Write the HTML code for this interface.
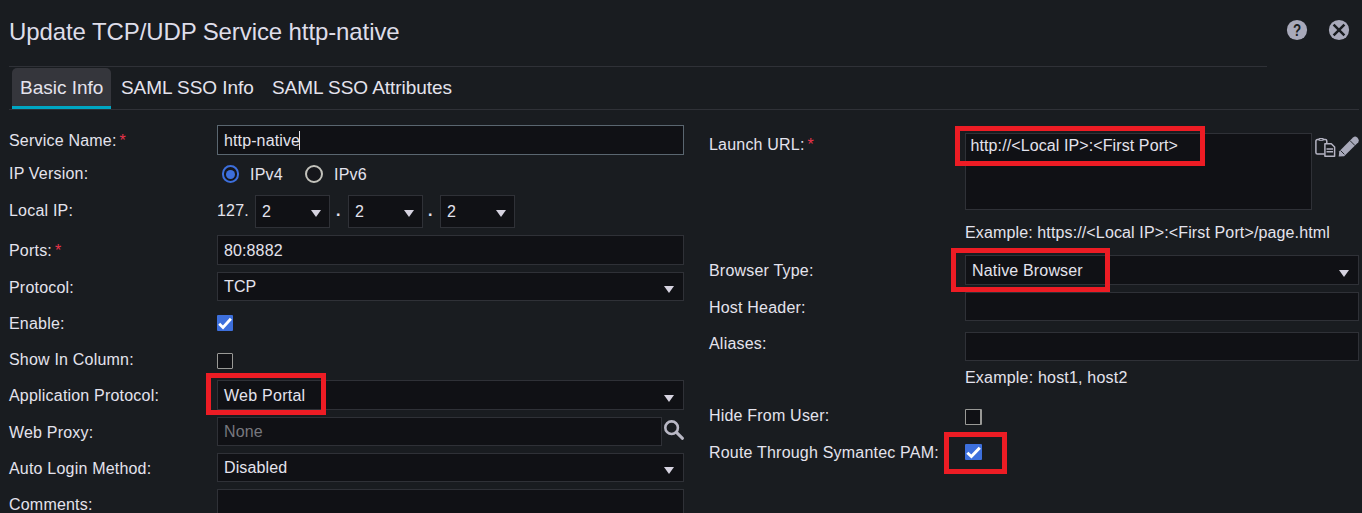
<!DOCTYPE html>
<html><head><meta charset="utf-8"><title>Update TCP/UDP Service http-native</title><style>
html,body{margin:0;padding:0;background:#191c20;}
body{width:1362px;height:513px;overflow:hidden;position:relative;font-family:"Liberation Sans",Arial,sans-serif;color:#e4e3ed;font-size:16px;}
.l{position:absolute;white-space:nowrap;line-height:20px;height:20px;letter-spacing:0.2px}
.r{color:#e8334a;margin-left:3px}
.box{position:absolute;box-sizing:border-box;background:#101115;border:1px solid #2f3137}
.box span{position:absolute;left:6px;white-space:nowrap;line-height:20px;letter-spacing:0.12px}
.arr{position:absolute;width:0;height:0;border-left:5.25px solid transparent;border-right:5.25px solid transparent;border-top:7.5px solid #d6d3e0}
.hl{position:absolute;box-sizing:border-box;border:5px solid #ed1c24}
.line{position:absolute;height:1px;background:#2f3137}
.cb{position:absolute;box-sizing:border-box;width:16px;height:16px}
.cb.on{background:#3d6fdc;border-radius:1px}
.cb.off{background:#101115;border:1.5px solid #999996;border-radius:1px}
.rd{position:absolute;box-sizing:border-box;width:18px;height:18px;border-radius:50%}
svg{position:absolute;overflow:visible}
</style></head><body>

<div class="l" id="title" style="font-size:24px;left:9px;top:18px;line-height:28px;height:28px;color:#dedde9;letter-spacing:-0.1px">Update TCP/UDP Service http-native</div>

<!-- header icons -->
<svg style="left:1287px;top:20px" width="20" height="20" viewBox="0 0 20 20"><circle cx="10" cy="10" r="10.1" fill="#a8a9ba"/><text transform="translate(10 15.6) scale(0.84 1)" text-anchor="middle" font-family="Liberation Sans, sans-serif" font-weight="bold" font-size="16" fill="#191c20">?</text></svg>
<svg style="left:1329px;top:20px" width="20" height="20" viewBox="0 0 20 20"><circle cx="10" cy="10" r="10.1" fill="#a8a9ba"/><path d="M4.6 4.6 L15.4 15.4 M15.4 4.6 L4.6 15.4" stroke="#191c20" stroke-width="2.5" fill="none"/></svg>

<!-- tabs -->
<div class="line" style="left:9px;top:66px;width:1258px"></div>
<div style="position:absolute;left:12px;top:68px;width:99px;height:41px;background:#35363c;border-radius:5px 5px 0 0;border-bottom:3px solid #00a7c4;box-sizing:border-box"></div>
<div class="line" style="left:9px;top:109px;width:1350px"></div>
<div class="l" id="tab1" style="letter-spacing:0;font-size:19px;left:20px;top:77px;line-height:22px">Basic Info</div>
<div class="l" id="tab2" style="letter-spacing:-0.05px;font-size:19px;left:121px;top:77px;line-height:22px">SAML SSO Info</div>
<div class="l" id="tab3" style="letter-spacing:-0.05px;font-size:19px;left:272px;top:77px;line-height:22px">SAML SSO Attributes</div>

<!-- left labels -->
<div class="l" style="left:9px;top:131px">Service Name:<span class="r">*</span></div>
<div class="l" style="left:9px;top:164px">IP Version:</div>
<div class="l" style="left:9px;top:201px">Local IP:</div>
<div class="l" style="left:9px;top:241px">Ports:<span class="r">*</span></div>
<div class="l" style="left:9px;top:278px">Protocol:</div>
<div class="l" style="left:9px;top:314px">Enable:</div>
<div class="l" style="left:9px;top:350px">Show In Column:</div>
<div class="l" style="left:9px;top:386px">Application Protocol:</div>
<div class="l" style="left:9px;top:423px">Web Proxy:</div>
<div class="l" style="left:9px;top:459px">Auto Login Method:</div>
<div class="l" style="left:9px;top:495px">Comments:</div>

<!-- left fields -->
<div class="box" style="left:217px;top:125px;width:467px;height:30px;border-color:#5a6670"><span style="top:5px">http-native</span><i style="position:absolute;left:81px;top:5px;width:1px;height:19px;background:#e4e3ed"></i></div>

<div class="rd" style="left:221.8px;top:165.2px;width:17.6px;height:17.6px;border:2.4px solid #3d6fdc;background:#15161b"></div>
<div style="position:absolute;left:226.1px;top:169.5px;width:9px;height:9px;border-radius:50%;background:#3d6fdc"></div>
<div class="l" style="left:250px;top:165px">IPv4</div>
<div class="rd" style="left:305px;top:165px;border:2.8px solid #c2c2bb;background:#15161b"></div>
<div class="l" style="left:334px;top:165px">IPv6</div>

<div class="l" style="left:217px;top:201px">127.</div>
<div class="box" style="left:255px;top:195px;width:75px;height:33px"><span style="top:6px">2</span><div class="arr" style="left:55px;top:13.5px"></div></div>
<div class="l" style="left:336px;top:201px;font-weight:bold">.</div>
<div class="box" style="left:348px;top:195px;width:75px;height:33px"><span style="top:6px">2</span><div class="arr" style="left:55px;top:13.5px"></div></div>
<div class="l" style="left:428px;top:201px;font-weight:bold">.</div>
<div class="box" style="left:440px;top:195px;width:75px;height:33px"><span style="top:6px">2</span><div class="arr" style="left:55px;top:13.5px"></div></div>

<div class="box" style="left:217px;top:235px;width:467px;height:30px"><span style="top:5px">80:8882</span></div>
<div class="box" style="left:217px;top:272px;width:467px;height:29px"><span style="top:4px">TCP</span><div class="arr" style="left:446px;top:13px"></div></div>
<div class="cb on" style="left:217px;top:315px"><svg width="16" height="16" viewBox="0 0 16 16" style="left:0;top:0"><path d="M2.2 8.8 L6 12.4 L13.9 3.7" stroke="#fff" stroke-width="2.8" fill="none"/></svg></div>
<div class="cb off" style="left:217px;top:353px"></div>
<div class="box" style="left:217px;top:380px;width:467px;height:30px"><span style="top:5px;letter-spacing:0.25px">Web Portal</span><div class="arr" style="left:446px;top:13.5px"></div></div>
<div class="box" style="left:217px;top:417px;width:445px;height:29px"><span style="top:4px;color:#77787e">None</span></div>
<svg style="left:664px;top:421px" width="21" height="20" viewBox="0 0 21 20"><circle cx="7.6" cy="6.7" r="6.3" stroke="#b9b8c5" stroke-width="2.6" fill="none"/><path d="M12.2 11.2 L18.5 17.3" stroke="#b9b8c5" stroke-width="3" stroke-linecap="round"/></svg>
<div class="box" style="left:217px;top:453px;width:467px;height:29px"><span style="top:4px">Disabled</span><div class="arr" style="left:446px;top:13px"></div></div>
<div class="box" style="left:217px;top:489px;width:467px;height:40px"></div>
<div class="hl" style="left:206px;top:373px;width:120px;height:42px"></div>

<!-- right labels -->
<div class="l" style="left:709px;top:135px">Launch URL:<span class="r">*</span></div>
<div class="l" style="left:709px;top:261px">Browser Type:</div>
<div class="l" style="left:709px;top:298px">Host Header:</div>
<div class="l" style="left:709px;top:334px">Aliases:</div>
<div class="l" style="left:709px;top:406px">Hide From User:</div>
<div class="l" style="left:709px;top:443px">Route Through Symantec PAM:</div>

<!-- right fields -->
<div class="box" style="left:965px;top:133px;width:347px;height:77px"><span style="top:2px;left:4.5px;letter-spacing:0.1px">http://&lt;Local IP&gt;:&lt;First Port&gt;</span></div>
<div class="hl" style="left:955px;top:126px;width:250px;height:40px"></div>
<div class="l" style="left:965px;top:223px;letter-spacing:0.13px">Example: https://&lt;Local IP&gt;:&lt;First Port&gt;/page.html</div>
<div class="box" style="left:965px;top:255px;width:394px;height:30px"><span style="top:5px;letter-spacing:0.17px">Native Browser</span><div class="arr" style="left:373px;top:13.5px"></div></div>
<div class="hl" style="left:951px;top:248px;width:159px;height:44px"></div>
<div class="box" style="left:965px;top:292px;width:394px;height:29px"></div>
<div class="box" style="left:965px;top:332px;width:394px;height:29px"></div>
<div class="l" style="left:965px;top:368px">Example: host1, host2</div>
<div class="cb off" style="left:965px;top:409px;width:17px;border-right-width:2px"></div>
<div class="cb on" style="left:965px;top:444px;width:17px"><svg width="17" height="16" viewBox="0 0 16 16" preserveAspectRatio="none" style="left:0;top:0"><path d="M2.2 8.8 L6 12.4 L13.9 3.7" stroke="#fff" stroke-width="2.8" fill="none"/></svg></div>
<div class="hl" style="left:944px;top:432px;width:63px;height:42px"></div>

<!-- paste & pencil icons -->
<svg style="left:1315px;top:138px" width="21" height="19" viewBox="0 0 21 19"><path d="M9.4 16 H2.4 a1.5 1.5 0 0 1 -1.5 -1.5 V3 a1.5 1.5 0 0 1 1.5 -1.5 H10.3 a1.5 1.5 0 0 1 1.5 1.5 V5" stroke="#b4b3c2" stroke-width="1.5" fill="none"/><rect x="3.4" y="-0.1" width="5.4" height="2.9" rx="1.3" fill="#b4b3c2"/><rect x="4.7" y="0.9" width="2.8" height="0.9" rx="0.4" fill="#191c20"/><path d="M9.9 5.7 H16.3 L19.6 9 V18.2 H9.9 Z" stroke="#b4b3c2" stroke-width="1.5" fill="none" stroke-linejoin="round"/><path d="M11.5 10.9 H18 M11.5 13.7 H18" stroke="#b4b3c2" stroke-width="1.5"/></svg>
<svg style="left:1338px;top:136px" width="21" height="21" viewBox="0 0 21 21"><path d="M0.7 20.5 L1.3 15.2 L15 1.5 Q17.3 -0.4 19.2 1.6 L20.2 2.8 Q21.5 4.6 20.3 6.2 L6.1 20.2 Z" fill="#a8a9ba"/><path d="M12 4.6 L17 9.6 M2.6 14.6 L6.4 18.4" stroke="#191c20" stroke-width="0.9" fill="none"/></svg>

</body></html>
